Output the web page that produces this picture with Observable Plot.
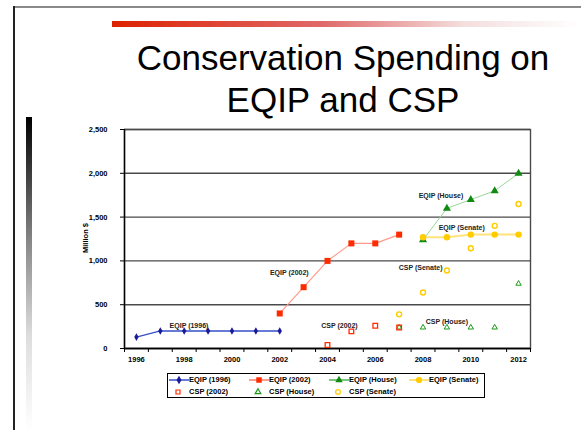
<!DOCTYPE html>
<html>
<head>
<meta charset="utf-8">
<script src="https://cdn.jsdelivr.net/npm/d3@7"></script>
<script src="https://cdn.jsdelivr.net/npm/@observablehq/plot@0.6"></script>
<style>
  html, body { margin: 0; padding: 0; background: #fff; }
  #slide { position: relative; width: 581px; height: 430px; overflow: hidden; font-family: "Liberation Sans", Arial, sans-serif; }
  #slide > svg, #chart svg { position: absolute; left: 0; top: 0; }
  .abs { position: absolute; }
  #title { left: 100px; width: 486px; top: 37px; text-align: center; font-size: 35px; line-height: 42px; color: #000; }
  #ylab { left: 85px; top: 238px; transform: translate(-50%, -50%) rotate(-90deg); font-size: 7.5px; font-weight: bold; white-space: nowrap; }
  #legend { left: 167px; top: 373px; width: 316px; height: 23px; border: 1px solid #000; background: #fff; }
  .lg { position: absolute; font-size: 7.5px; font-weight: bold; white-space: nowrap; line-height: 10px; }
</style>
</head>
<body>
<div id="slide">
  <div class="abs" style="left:13px;top:6px;width:568px;height:1.5px;background:#8a8a8a"></div>
  <div class="abs" style="left:13px;top:6px;width:1.5px;height:424px;background:#222"></div>
  <div class="abs" style="left:112px;top:21px;width:469px;height:6px;background:linear-gradient(to right,#dd2200,#e06a6a 45%,#f4dede 75%,#ffffff)"></div>
  <div class="abs" style="left:26px;top:117px;width:6px;height:313px;background:linear-gradient(to bottom,#000,#888 40%,#ddd 70%,#fff)"></div>
  <div id="chart"></div>
  <div id="title" class="abs">Conservation Spending on<br>EQIP and CSP</div>
  <div id="ylab" class="abs">Million $</div>
  <div id="legend" class="abs"></div>
</div>
<script>
// ---- data ----
const eqip1996Years = [1996, 1997, 1998, 1999, 2000, 2001, 2002];
const eqip1996Values = [130, 200, 200, 200, 200, 200, 200];
const eqip2002Years = [2002, 2003, 2004, 2005, 2006, 2007];
const eqip2002Values = [400, 700, 1000, 1200, 1200, 1300];
const eqipHouseYears = [2008, 2009, 2010, 2011, 2012];
const eqipHouseValues = [1240, 1600, 1700, 1800, 2000];
const eqipSenateYears = [2008, 2009, 2010, 2011, 2012];
const eqipSenateValues = [1270, 1270, 1300, 1300, 1300];
const csp2002Years = [2004, 2005, 2006, 2007];
const csp2002Values = [40, 195, 260, 240];
const cspHouseYears = [2007, 2008, 2009, 2010, 2011, 2012];
const cspHouseValues = [240, 240, 240, 240, 240, 740];
const cspSenateYears = [2007, 2008, 2009, 2010, 2011, 2012];
const cspSenateValues = [390, 640, 890, 1145, 1400, 1650];

const xTickYears = [1996, 1998, 2000, 2002, 2004, 2006, 2008, 2010, 2012];
const yTicks = [0, 500, 1000, 1500, 2000, 2500];

// label anchors (data units)
const labelTexts = ["EQIP (1996)", "EQIP (2002)", "EQIP (House)", "EQIP (Senate)", "CSP (Senate)", "CSP (2002)", "CSP (House)"];
const labelYears = [1998.2, 2002.4, 2008.75, 2009.62, 2007.9, 2004.5, 2009.0];
const labelValues = [255, 864, 1747, 1381, 925, 262, 308];

const legendNames = ["EQIP (1996)", "EQIP (2002)", "EQIP (House)", "EQIP (Senate)", "CSP (2002)", "CSP (House)", "CSP (Senate)"];

// ---- build rows ----
const zip = (ys, vs) => ys.map((y, i) => ({year: y, value: vs[i]}));
const e96 = zip(eqip1996Years, eqip1996Values);
const e02 = zip(eqip2002Years, eqip2002Values);
const eH = zip(eqipHouseYears, eqipHouseValues);
const eS = zip(eqipSenateYears, eqipSenateValues);
const c02 = zip(csp2002Years, csp2002Values);
const cH = zip(cspHouseYears, cspHouseValues);
const cS = zip(cspSenateYears, cspSenateValues);
const labels = labelTexts.map((t, i) => ({text: t, year: labelYears[i], value: labelValues[i]}));
const bounds = d3.range(1995.5, 2013, 1);

const tickFont = {fontSize: 7.5, fontWeight: "bold"};

const chart = Plot.plot({
  width: 581,
  height: 430,
  marginLeft: 124,
  marginRight: 51,
  marginTop: 129,
  marginBottom: 82,
  style: {fontFamily: "'Liberation Sans', Arial, sans-serif", background: "transparent", overflow: "visible"},
  x: {domain: [1995.5, 2012.5]},
  y: {domain: [0, 2500]},
  marks: [
    Plot.gridY(yTicks, {stroke: "#4a4a4a", strokeOpacity: 1, strokeWidth: 1.4}),
    Plot.frame({stroke: "#4a4a4a", strokeWidth: 1.4}),
    Plot.ruleX([1995.5], {stroke: "#000", strokeWidth: 1.4}),
    Plot.ruleY([0], {stroke: "#000", strokeWidth: 1.4}),
    Plot.axisY({ticks: yTicks, tickSize: 4, tickPadding: 13, tickFormat: d3.format(","), label: null, ...tickFont, stroke: "#000"}),
    Plot.axisX({ticks: bounds, tickSize: 4, tickFormat: () => "", label: null}),
    Plot.axisX({ticks: xTickYears, tickSize: 0, tickPadding: 8, tickFormat: d => String(d), label: null, ...tickFont}),

    Plot.line(e96, {x: "year", y: "value", stroke: "#3550c8", strokeWidth: 1.3}),
    Plot.line(e02, {x: "year", y: "value", stroke: "#ff9a8a", strokeWidth: 1.1}),
    Plot.line(eH, {x: "year", y: "value", stroke: "#98d898", strokeWidth: 1}),
    Plot.line(eS, {x: "year", y: "value", stroke: "#ffe27a", strokeWidth: 2}),

    Plot.dot(e96, {x: "year", y: "value", symbol: "diamond", r: 2.3, fill: "#1a1a9a", stroke: "none"}),
    Plot.dot(e02, {x: "year", y: "value", symbol: "square", r: 3.4, fill: "#ff2a00", stroke: "none"}),
    Plot.dot(eH, {x: "year", y: "value", symbol: "triangle", r: 3, fill: "#108a10", stroke: "none"}),
    Plot.dot(eS, {x: "year", y: "value", symbol: "circle", r: 3.2, fill: "#ffcc00", stroke: "none"}),

    Plot.dot(cH, {x: "year", y: "value", symbol: "triangle", r: 2, fill: "none", stroke: "#1a9a1a", strokeWidth: 1}),
    Plot.dot(c02, {x: "year", y: "value", symbol: "square", r: 2.6, fill: "none", stroke: "#ff2a00", strokeWidth: 1.3}),
    Plot.dot(cS, {x: "year", y: "value", symbol: "circle", r: 2.5, fill: "none", stroke: "#ffcc00", strokeWidth: 1.4}),

    Plot.text(labels, {x: "year", y: "value", text: "text", fontSize: 7, fontWeight: "bold", fill: "#222"})
  ]
});
document.getElementById("chart").appendChild(chart);

// ---- legend ----
const legendStyles = [
  {line: "#3550c8", symbol: d3.symbolDiamond, size: 22, fill: "#1a1a9a", stroke: "none"},
  {line: "#ff7a6a", symbol: d3.symbolSquare, size: 30, fill: "#ff2a00", stroke: "none"},
  {line: "#50b050", symbol: d3.symbolTriangle, size: 24, fill: "#108a10", stroke: "none"},
  {line: "#ffd84a", symbol: d3.symbolCircle, size: 30, fill: "#ffcc00", stroke: "none"},
  {line: null, symbol: d3.symbolSquare, size: 16, fill: "none", stroke: "#ff2a00"},
  {line: null, symbol: d3.symbolTriangle, size: 14, fill: "none", stroke: "#1a9a1a"},
  {line: null, symbol: d3.symbolCircle, size: 18, fill: "none", stroke: "#ffcc00"}
];
const legend = document.getElementById("legend");
legendNames.forEach((name, i) => {
  const col = i < 4 ? i : i - 4;
  const row = i < 4 ? 0 : 1;
  const left = 1 + col * 80;
  const top = row === 0 ? 1 : 12.5;
  const st = legendStyles[i];
  const svg = d3.create("svg").attr("width", 20).attr("height", 10)
    .style("position", "absolute").style("left", left + "px").style("top", top + "px");
  if (st.line) svg.append("line").attr("x1", 0).attr("x2", 20).attr("y1", 5).attr("y2", 5).attr("stroke", st.line).attr("stroke-width", 1.5);
  svg.append("path").attr("d", d3.symbol(st.symbol, st.size)()).attr("transform", `translate(${st.line ? 10 : 9},5)`)
    .attr("fill", st.fill).attr("stroke", st.stroke).attr("stroke-width", 1.2);
  legend.appendChild(svg.node());
  const span = document.createElement("div");
  span.className = "lg";
  span.style.left = (left + 20) + "px";
  span.style.top = top + "px";
  span.textContent = name;
  legend.appendChild(span);
});
</script>
</body>
</html>
